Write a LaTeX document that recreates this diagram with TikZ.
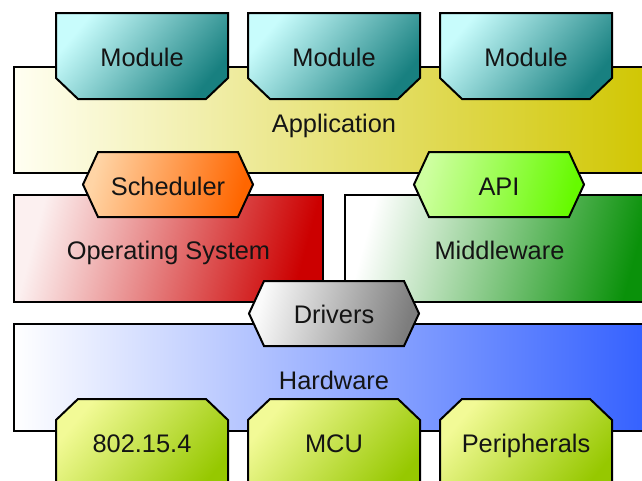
\documentclass[tikz,border=0pt]{standalone}
\usepackage{fontspec}
\setmainfont{Liberation Sans}
\begin{document}
\begin{tikzpicture}[x=1pt, y=-1pt,
  layer/.style={draw=black, line width=2pt, line join=miter},
  label/.style={inner sep=0pt, text height=18.2pt, text depth=0pt,
    font=\fontsize{25.4}{30}\selectfont, text=black!92},
  appfill/.style={left color=appL, right color=appR},
  modfill/.style={top color=modL, bottom color=modR, shading angle=50},
  schedfill/.style={left color=schL, right color=schR, shading angle=75},
  apifill/.style={left color=apiL, right color=apiR, shading angle=75},
  osfill/.style={left color=osL, right color=osR, shading angle=75},
  mwfill/.style={left color=mwL, right color=mwR, shading angle=75},
  drvfill/.style={left color=drvL, right color=drvR, shading angle=75},
  hwfill/.style={left color=hwL, right color=hwR},
  chipfill/.style={top color=chipL, bottom color=chipR, shading angle=50}]

\definecolor{appL}{RGB}{255,255,242}
\definecolor{appR}{RGB}{208,198,0}
\definecolor{modL}{RGB}{200,252,252}
\definecolor{modR}{RGB}{24,128,128}
\definecolor{schL}{RGB}{255,212,165}
\definecolor{schR}{RGB}{255,102,0}
\definecolor{apiL}{RGB}{206,255,160}
\definecolor{apiR}{RGB}{102,250,0}
\definecolor{osL}{RGB}{252,240,240}
\definecolor{osR}{RGB}{204,0,0}
\definecolor{mwL}{RGB}{255,255,255}
\definecolor{mwR}{RGB}{10,145,10}
\definecolor{drvL}{RGB}{250,250,250}
\definecolor{drvR}{RGB}{125,125,125}
\definecolor{hwL}{RGB}{255,255,255}
\definecolor{hwR}{RGB}{50,95,255}
\definecolor{chipL}{RGB}{242,250,150}
\definecolor{chipR}{RGB}{150,200,0}

\useasboundingbox (0,0) rectangle (642,480);
\fill[white] (0,0) rectangle (642,480);
\clip (0,0) rectangle (642,480);

% application layer with its modules
\draw[layer, appfill] (14,67) rectangle (654,173);
\node[label] (app) at (334,123) {Application};
\foreach \x/\n in {56/modA, 248/modB, 440/modC} {
  \draw[layer, modfill] (\x,13) -- (\x+172,13) -- (\x+172,78) -- (\x+150,99)
    -- (\x+22,99) -- (\x,78) -- cycle;
  \node[label] (\n) at (\x+86,57) {Module};
}

% operating system and middleware
\draw[layer, osfill] (14,195) rectangle (323,302);
\node[label] (os) at (168.5,250) {Operating System};
\draw[layer, mwfill] (345,195) rectangle (654,302);
\node[label] (mw) at (499.5,250) {Middleware};

% interfaces between the layers
\draw[layer, schedfill] (83,184.5) -- (98,152) -- (238,152) -- (253,184.5)
  -- (238,217) -- (98,217) -- cycle;
\node[label] (sched) at (168,186) {Scheduler};
\draw[layer, apifill] (414,184.5) -- (429,152) -- (569,152) -- (584,184.5)
  -- (569,217) -- (429,217) -- cycle;
\node[label] (api) at (499,186) {API};

% hardware layer with its parts
\draw[layer, hwfill] (14,324) rectangle (654,431);
\node[label] (hw) at (334,380) {Hardware};
\foreach \x/\n/\t in {56/chipA/802.15.4, 248/chipB/MCU, 440/chipC/Peripherals} {
  \draw[layer, chipfill] (\x,500) -- (\x,420) -- (\x+22,399) -- (\x+150,399)
    -- (\x+172,420) -- (\x+172,500);
  \node[label] (\n) at (\x+86,443) {\t};
}

% drivers
\draw[layer, drvfill] (249,313.5) -- (264,281) -- (404,281) -- (419,313.5)
  -- (404,346) -- (264,346) -- cycle;
\node[label] (drv) at (334,314) {Drivers};
\end{tikzpicture}
\end{document}
